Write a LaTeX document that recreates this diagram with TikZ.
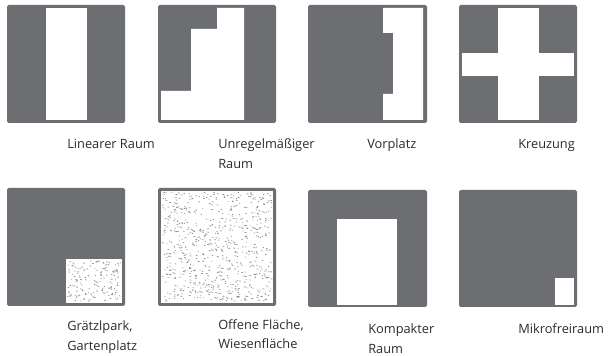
\documentclass[tikz,border=0pt]{standalone}
\usepackage{fontspec}
\setmainfont{Open Sans}
\begin{document}
\begin{tikzpicture}[x=0.75pt,y=-0.75pt,
  box/.style={fill=boxgray,rounded corners=1.2pt},
  hole/.style={fill=white},
  stip/.style={draw=stipgray,line width=0.5pt,line cap=round},
  lbl/.style={anchor=base west,inner sep=0pt,font=\fontsize{9.6pt}{15pt}\selectfont,text=txtcol}]
\definecolor{boxgray}{HTML}{6D6E71}
\definecolor{stipgray}{HTML}{85868A}
\definecolor{txtcol}{HTML}{2B2B2B}
\useasboundingbox (0,0) rectangle (608,356);
% Row 1
\fill[box] (7,5) rectangle (125,123);
\fill[hole] (46,8) rectangle (87,120);
\fill[box] (158,5) rectangle (276,123);
\fill[hole] (217,8) -- (244,8) -- (244,120) -- (161,120) -- (161,91) -- (191,91) -- (191,29) -- (217,29) -- cycle;
\fill[box] (308,5) rectangle (427,123);
\fill[hole] (383,8) -- (423,8) -- (423,120) -- (383,120) -- (383,94) -- (393,94) -- (393,33) -- (383,33) -- cycle;
\fill[box] (459,5) rectangle (577,123);
\fill[hole] (498,8) rectangle (539,120);
\fill[hole] (462,53) rectangle (574,76);
% Row 2
\fill[box] (7,188) rectangle (125,306);
\fill[hole] (66,259) rectangle (122,303);
\pgfmathsetseed{17}
\foreach \i in {1,...,160}{
  \pgfmathsetmacro\px{67+rnd*53}
  \pgfmathsetmacro\py{260+rnd*41}
  \pgfmathsetmacro\dx{0.3+rnd*1.1}
  \draw[stip] (\px,\py) -- ++(\dx,0.3);
}
\fill[box] (158,188) rectangle (276,306);
\fill[hole] (161,191) rectangle (273,303);
\foreach \i in {1,...,750}{
  \pgfmathsetmacro\px{162+rnd*109}
  \pgfmathsetmacro\py{192+rnd*109}
  \pgfmathsetmacro\dx{0.3+rnd*1.1}
  \draw[stip] (\px,\py) -- ++(\dx,0.3);
}
\fill[box] (308,190) rectangle (427,307);
\fill[hole] (337,219) rectangle (397,305);
\fill[box] (459,190) rectangle (577,307);
\fill[hole] (555,278) rectangle (574,305);
% Labels
\node[lbl] (t1) at (67,149) {Linearer Raum};
\node[lbl] (t2a) at (218,149) {Unregelmäßiger};
\node[lbl] (t2b) at (218,169) {Raum};
\node[lbl] (t3) at (367,149) {Vorplatz};
\node[lbl] (t4) at (518,149) {Kreuzung};
\node[lbl] (t5a) at (67,331) {Grätzlpark,};
\node[lbl] (t5b) at (67,351) {Gartenplatz};
\node[lbl] (t6a) at (218,330) {Offene Fläche,};
\node[lbl] (t6b) at (218,349) {Wiesenfläche};
\node[lbl] (t7a) at (368,334) {Kompakter};
\node[lbl] (t7b) at (368,354) {Raum};
\node[lbl] (t8) at (518,334) {Mikrofreiraum};
\end{tikzpicture}
\end{document}
